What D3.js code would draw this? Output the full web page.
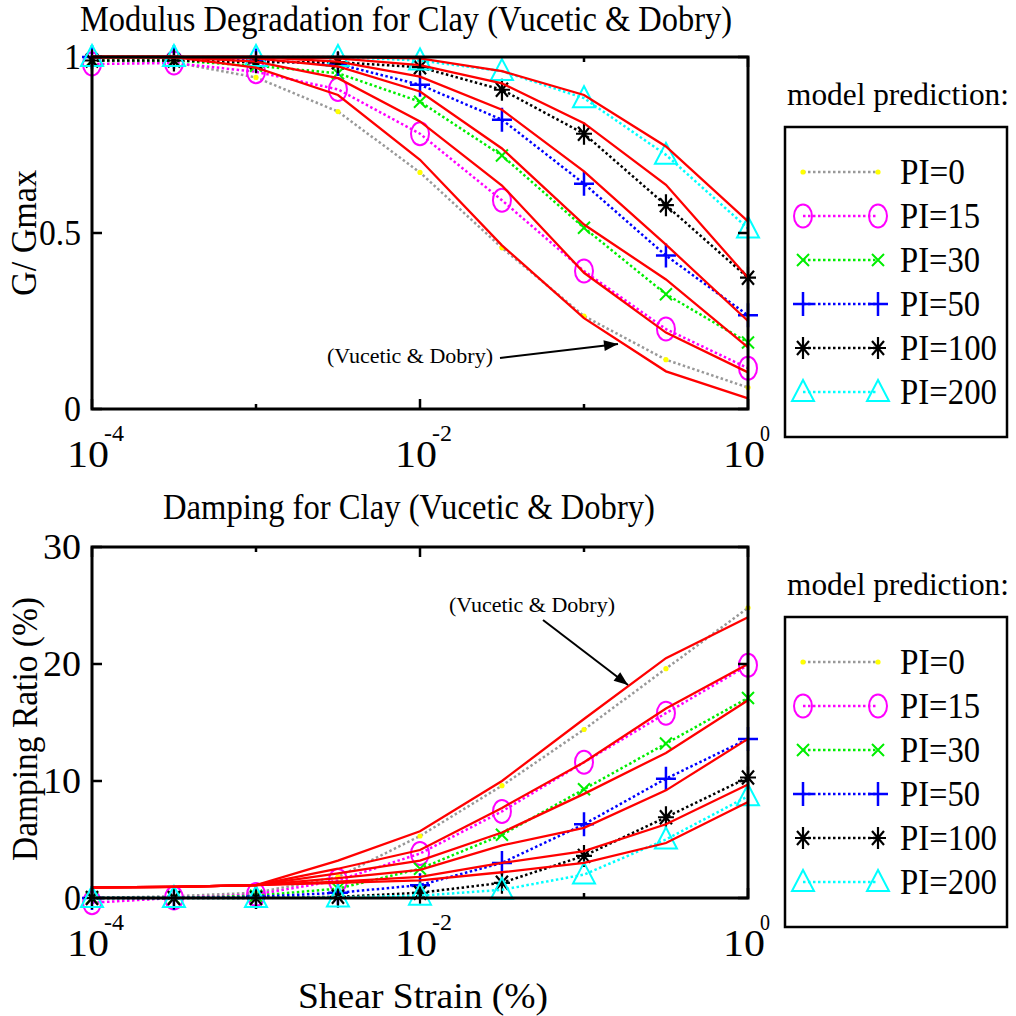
<!DOCTYPE html>
<html>
<head>
<meta charset="utf-8">
<script src="https://cdn.jsdelivr.net/npm/d3@7"></script>
<style>
  body { margin: 0; background: #fff; }
  svg { display: block; }
  text { font-family: "Liberation Serif", "Times New Roman", serif; fill: #000; }
</style>
</head>
<body>
<svg id="chart" width="1016" height="1016"></svg>
<script>
/**
 * Data.
 */
const strain = [1e-4, 3.16e-4, 1e-3, 3.16e-3, 1e-2, 3.16e-2, 0.1, 0.316, 1];
const piLabels = ['PI=0', 'PI=15', 'PI=30', 'PI=50', 'PI=100', 'PI=200'];
const xTickValues = [1e-4, 1e-2, 1];
const xTickExponents = ['-4', '-2', '0'];
const xMinorTicks = [1e-3, 1e-1];
const modulusTicks = [0, 0.5, 1];
const modulusTickLabels = ['0', '0.5', '1'];
const dampingTicks = [0, 10, 20, 30];
const dampingTickLabels = ['0', '10', '20', '30'];

// model prediction, G/Gmax (one row per PI)
const modulusModel = [
    [0.99, 0.985, 0.942, 0.845, 0.672, 0.458, 0.264, 0.14, 0.061],
    [0.98, 0.983, 0.958, 0.908, 0.782, 0.593, 0.392, 0.227, 0.116],
    [0.99, 0.99, 0.975, 0.954, 0.873, 0.72, 0.515, 0.326, 0.189],
    [1.0, 1.0, 0.99, 0.98, 0.921, 0.822, 0.64, 0.436, 0.266],
    [0.99, 0.99, 0.985, 0.985, 0.971, 0.907, 0.782, 0.579, 0.373],
    [1.0, 1.0, 1.0, 1.0, 0.99, 0.96, 0.883, 0.722, 0.513]
];
// Vucetic & Dobry curves, G/Gmax
const modulusVD = [
    [1, 1, 0.97, 0.892, 0.708, 0.465, 0.258, 0.107, 0.03],
    [1, 1, 0.987, 0.94, 0.817, 0.635, 0.387, 0.217, 0.104],
    [1, 1, 0.996, 0.973, 0.902, 0.74, 0.524, 0.368, 0.175],
    [1, 1, 1, 0.987, 0.944, 0.85, 0.675, 0.467, 0.25],
    [1, 1, 1, 0.996, 0.977, 0.925, 0.812, 0.637, 0.373],
    [1, 1, 1, 1, 0.996, 0.96, 0.892, 0.746, 0.533]
];
// model prediction, damping ratio (%)
const dampingModel = [
    [0, 0.15, 0.45, 1.8, 5.3, 9.6, 14.4, 19.6, 24.8],
    [-0.4, 0, 0.3, 1.5, 3.8, 7.4, 11.6, 15.8, 19.9],
    [0, 0, 0.2, 0.8, 2.5, 5.4, 9.3, 13.2, 17.1],
    [0, 0, 0.1, 0.45, 1.1, 3.0, 6.3, 10.2, 13.6],
    [0, 0, 0, 0.1, 0.45, 1.3, 3.6, 6.9, 10.3],
    [0, 0, 0, 0.05, 0.2, 0.7, 2.0, 5.0, 8.7]
];
// Vucetic & Dobry curves, damping ratio (%)
const dampingVD = [
    [0.9, 0.95, 1.1, 3.2, 5.7, 10.0, 15.3, 20.5, 24.0],
    [0.9, 0.95, 1.1, 2.5, 4.1, 7.7, 11.6, 16.2, 20.0],
    [0.9, 0.95, 1.1, 2.1, 3.2, 5.6, 8.9, 12.4, 16.9],
    [0.9, 0.95, 1.1, 1.7, 2.4, 4.5, 6.0, 9.2, 13.6],
    [0.9, 0.95, 1.1, 1.4, 1.8, 3.0, 4.0, 6.3, 9.7],
    [0.9, 0.95, 1.1, 1.3, 1.5, 2.2, 3.0, 4.7, 8.2]
];

/**
 * Styles.
 */
const lineColors = ['#999999', '#ff00ff', '#00ee00', '#0000ff', '#000000', '#00ffff'];
const markerColors = ['#ffff00', '#ff00ff', '#00ee00', '#0000ff', '#000000', '#00ffff'];
const markerTypes = ['point', 'circle', 'x', 'plus', 'star', 'triangle'];
const legendWidths = [65, 80, 80, 80, 97, 97];

const svg = d3.select('#chart');
const x = d3.scaleLog().domain([1e-4, 1]).range([92, 748]);

function squeezed(g, str, size, len) {
    return g.append('text').attr('font-size', size)
        .attr('textLength', len).attr('lengthAdjust', 'spacingAndGlyphs').text(str);
}

function drawMarker(g, type, color, cx, cy) {
    const m = g.append('g').attr('transform', 'translate(' + cx + ',' + cy + ')')
        .attr('fill', 'none').attr('stroke', color).attr('stroke-width', 2);
    if (type === 'point') {
        m.append('circle').attr('r', 2.6).attr('fill', color).attr('stroke', 'none');
    } else if (type === 'circle') {
        m.append('ellipse').attr('rx', 9).attr('ry', 11.5);
    } else if (type === 'x') {
        m.append('path').attr('d', 'M-6,-6L6,6M-6,6L6,-6');
    } else if (type === 'plus') {
        m.append('path').attr('d', 'M-10,0L10,0M0,-12L0,12').attr('stroke-width', 2.5);
    } else if (type === 'star') {
        m.append('path').attr('d', 'M-8,0L8,0M0,-11L0,11M-6,-7L6,7M-6,7L6,-7').attr('stroke-width', 2.2);
    } else if (type === 'triangle') {
        m.append('path').attr('d', 'M0,-12L-11,9L11,9Z');
    }
}

function drawPanel(cfg) {
    const y = d3.scaleLinear().domain(cfg.domain).range([cfg.bottom, cfg.top]);
    const g = svg.append('g');
    const line = d3.line().x((d, i) => x(strain[i])).y(d => y(d));

    // model prediction (dotted + markers)
    cfg.model.forEach((s, k) => {
        g.append('path').attr('d', line(s)).attr('fill', 'none')
            .attr('stroke', lineColors[k]).attr('stroke-width', 2.5)
            .attr('stroke-dasharray', '2.5,2.5');
        s.forEach((v, i) => drawMarker(g, markerTypes[k], markerColors[k], x(strain[i]), y(v)));
    });

    // Vucetic & Dobry curves
    cfg.vd.forEach(s => {
        g.append('path').attr('d', line(s)).attr('fill', 'none')
            .attr('stroke', '#ff0000').attr('stroke-width', 2.3);
    });

    // Axes box
    g.append('rect').attr('x', 92).attr('y', cfg.top).attr('width', 656).attr('height', cfg.bottom - cfg.top)
        .attr('fill', 'none').attr('stroke', '#000').attr('stroke-width', 3);

    // x ticks (inward, bottom and top)
    const tick = (v, len) => {
        g.append('line').attr('x1', x(v)).attr('x2', x(v)).attr('y1', cfg.bottom).attr('y2', cfg.bottom - len)
            .attr('stroke', '#000').attr('stroke-width', 2.5);
        g.append('line').attr('x1', x(v)).attr('x2', x(v)).attr('y1', cfg.top).attr('y2', cfg.top + len)
            .attr('stroke', '#000').attr('stroke-width', 2.5);
    };
    xTickValues.forEach(v => tick(v, 10));
    xMinorTicks.forEach(v => tick(v, 5));

    xTickValues.forEach((v, i) => {
        squeezed(g, '10', 38, 42).attr('x', x(v) - 25).attr('y', cfg.bottom + 58);
        squeezed(g, xTickExponents[i], 24, xTickExponents[i].length * 10)
            .attr('x', x(v) + 12).attr('y', cfg.bottom + 32);
    });

    // y ticks
    cfg.yTicks.forEach((v, i) => {
        g.append('line').attr('x1', 92).attr('x2', 102).attr('y1', y(v)).attr('y2', y(v))
            .attr('stroke', '#000').attr('stroke-width', 2.5);
        g.append('line').attr('x1', 748).attr('x2', 738).attr('y1', y(v)).attr('y2', y(v))
            .attr('stroke', '#000').attr('stroke-width', 2.5);
        const label = cfg.yTickLabels[i];
        squeezed(g, label, 36, label.length === 1 ? 17 : (label.length === 2 ? 38 : 42))
            .attr('x', 81).attr('y', y(v) + 12).attr('text-anchor', 'end');
    });

    // Title
    squeezed(g, cfg.title, 36, cfg.titleLength).attr('x', cfg.titleX).attr('y', cfg.titleY);

    // y label
    squeezed(g, cfg.yLabel, 36, cfg.yLabelLength)
        .attr('transform', 'translate(' + cfg.yLabelX + ',' + cfg.yLabelY + ') rotate(-90)')
        .attr('text-anchor', 'middle');

    // Annotation with arrow
    squeezed(g, '(Vucetic & Dobry)', 22, 166).attr('x', cfg.note.x).attr('y', cfg.note.y);
    const a = cfg.note.arrow;
    const ang = Math.atan2(a[3] - a[1], a[2] - a[0]);
    g.append('line').attr('x1', a[0]).attr('y1', a[1]).attr('x2', a[2]).attr('y2', a[3])
        .attr('stroke', '#000').attr('stroke-width', 2);
    const hl = 14, hw = 5.5;
    const bx = a[2] - hl * Math.cos(ang), by = a[3] - hl * Math.sin(ang);
    g.append('path').attr('d', 'M' + a[2] + ',' + a[3] +
        'L' + (bx - hw * Math.sin(ang)) + ',' + (by + hw * Math.cos(ang)) +
        'L' + (bx + hw * Math.sin(ang)) + ',' + (by - hw * Math.cos(ang)) + 'Z').attr('fill', '#000');

    // Legend
    const lg = svg.append('g');
    squeezed(lg, 'model prediction:', 32, 222).attr('x', 787).attr('y', cfg.legendTop - 22);
    lg.append('rect').attr('x', 785).attr('y', cfg.legendTop).attr('width', 222).attr('height', 310)
        .attr('fill', '#fff').attr('stroke', '#000').attr('stroke-width', 2.5);
    piLabels.forEach((lab, k) => {
        const ry = cfg.legendTop + 45 + k * 44;
        lg.append('line').attr('x1', 803).attr('x2', 878).attr('y1', ry).attr('y2', ry)
            .attr('stroke', lineColors[k]).attr('stroke-width', 2.5).attr('stroke-dasharray', '2.5,2.5');
        drawMarker(lg, markerTypes[k], markerColors[k], 803, ry);
        drawMarker(lg, markerTypes[k], markerColors[k], 878, ry);
        squeezed(lg, lab, 36, legendWidths[k]).attr('x', 900).attr('y', ry + 12);
    });

    if (cfg.xLabel) {
        squeezed(svg, cfg.xLabel, 36, 250).attr('x', 298).attr('y', 1008);
    }
}

drawPanel({
    domain: [0, 1], top: 57, bottom: 409,
    model: modulusModel, vd: modulusVD,
    yTicks: modulusTicks, yTickLabels: modulusTickLabels,
    title: 'Modulus Degradation for Clay (Vucetic & Dobry)', titleX: 80, titleY: 31, titleLength: 652,
    yLabel: 'G/ Gmax', yLabelX: 36, yLabelY: 233, yLabelLength: 126,
    note: { x: 327, y: 363, arrow: [500, 358, 618, 344] },
    legendTop: 127
});

drawPanel({
    domain: [0, 30], top: 547, bottom: 898,
    model: dampingModel, vd: dampingVD,
    yTicks: dampingTicks, yTickLabels: dampingTickLabels,
    title: 'Damping for Clay (Vucetic & Dobry)', titleX: 163, titleY: 519, titleLength: 492,
    yLabel: 'Damping Ratio (%)', yLabelX: 37, yLabelY: 729, yLabelLength: 264,
    note: { x: 449, y: 612, arrow: [543, 620, 628, 685] },
    legendTop: 617,
    xLabel: 'Shear Strain (%)'
});
</script>
</body>
</html>
